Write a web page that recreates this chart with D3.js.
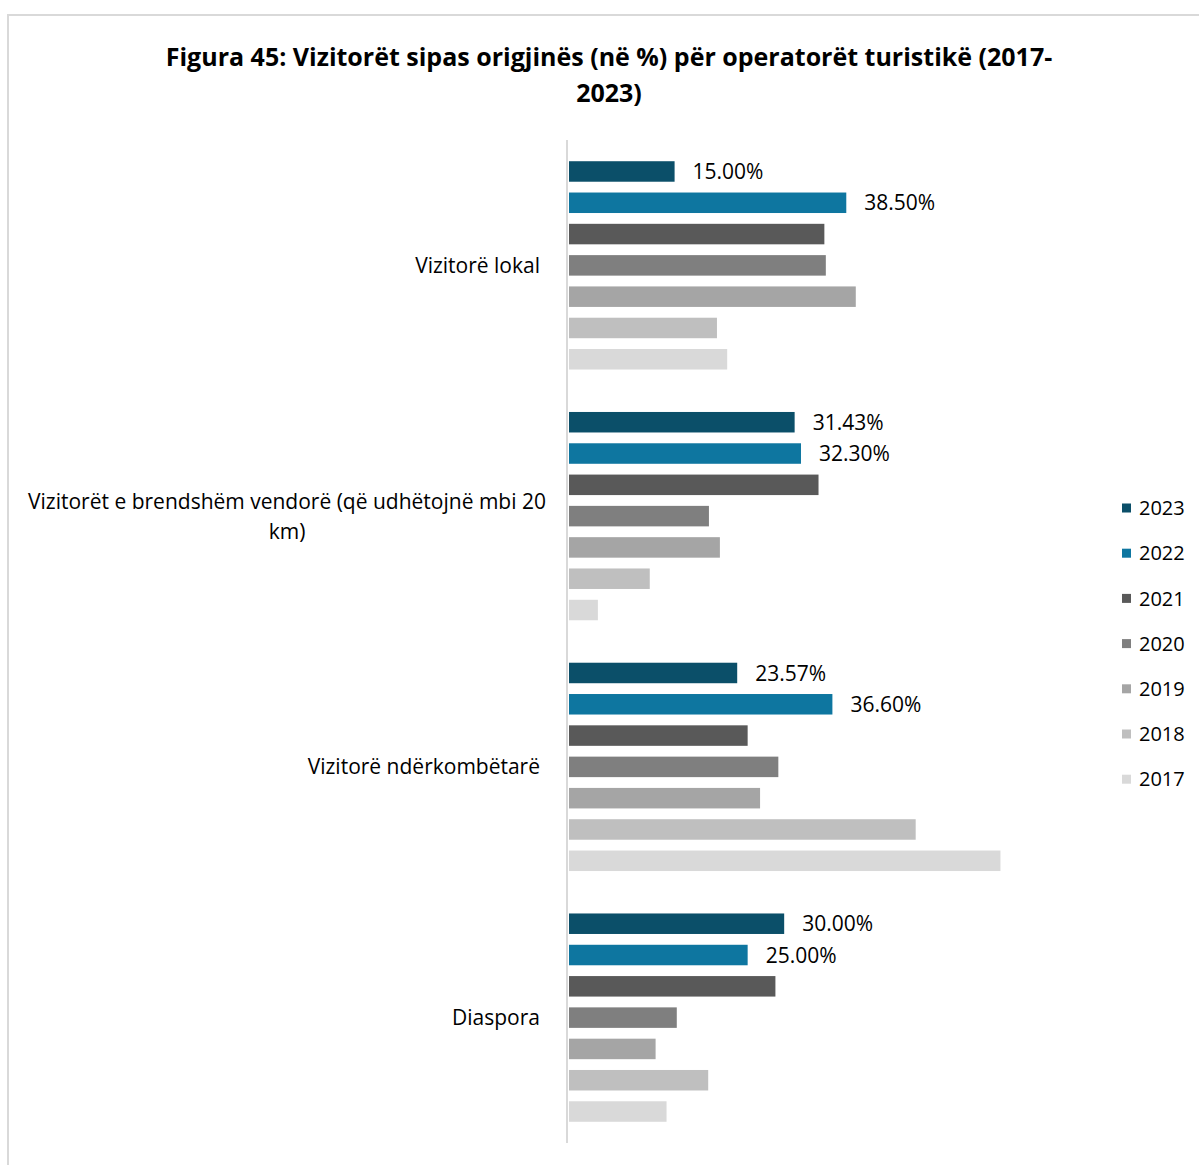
<!DOCTYPE html>
<html>
<head>
<meta charset="utf-8">
<script src="https://cdn.jsdelivr.net/npm/d3@7"></script>
<style>
  html, body { margin: 0; padding: 0; background: #fff; }
  svg { display: block; }
  text { font-family: "Open Sans", Lato, sans-serif; fill: #000; }
</style>
</head>
<body>
<svg id="chart" width="1199" height="1165"></svg>
<script>
const categories = [
  "Vizitorë lokal",
  "Vizitorët e brendshëm vendorë (që udhëtojnë mbi 20 km)",
  "Vizitorë ndërkombëtarë",
  "Diaspora"
];
const years = ["2023", "2022", "2021", "2020", "2019", "2018", "2017"];
const v2023 = [15.00, 31.43, 23.57, 30.00];
const v2022 = [38.50, 32.30, 36.60, 25.00];
const v2021 = [35.5, 34.7, 25.0, 28.8];
const v2020 = [35.7, 19.7, 29.2, 15.3];
const v2019 = [39.8, 21.2, 26.7, 12.4];
const v2018 = [20.8, 11.6, 48.0, 19.6];
const v2017 = [22.2, 4.5, 59.6, 13.9];
const labeledYears = ["2023", "2022"];
const colors = ["#0b4f69", "#0e76a0", "#595959", "#7f7f7f", "#a5a5a5", "#bfbfbf", "#d9d9d9"];
const titleLines = ["Figura 45: Vizitorët sipas origjinës (në %) për operatorët turistikë (2017-", "2023)"];

const seriesValues = [v2023, v2022, v2021, v2020, v2019, v2018, v2017];

const svg = d3.select("#chart");

// chart border
svg.append("rect")
  .attr("x", 8).attr("y", 15).attr("width", 1300).attr("height", 1300)
  .attr("fill", "none").attr("stroke", "#d9d9d9").attr("stroke-width", 2);

// title
svg.append("text")
  .attr("x", 609).attr("y", 66)
  .attr("text-anchor", "middle")
  .style("font-size", "25px").style("font-weight", "bold")
  .selectAll("tspan").data(titleLines).join("tspan")
  .attr("x", 609).attr("dy", (d, i) => i === 0 ? 0 : 36)
  .text(d => d);

const x = d3.scaleLinear().domain([0, 60]).range([565, 565 + 60 * 7.306]);
const y0 = d3.scaleBand().domain(categories).range([140, 1143]).paddingInner(0).paddingOuter(0);
const y1 = d3.scaleBand().domain(years).range([0, y0.bandwidth()]).paddingInner(0.345).paddingOuter(0.678);
const color = d3.scaleOrdinal().domain(years).range(colors);

const data = [];
categories.forEach((c, ci) => {
  years.forEach((yr, yi) => {
    data.push({ cat: c, year: yr, value: seriesValues[yi][ci] });
  });
});

const gap = 4;
svg.append("g").selectAll("rect").data(data).join("rect")
  .attr("x", x(0) + gap)
  .attr("y", d => y0(d.cat) + y1(d.year))
  .attr("width", d => Math.max(0, x(d.value) - x(0) - gap))
  .attr("height", y1.bandwidth())
  .attr("fill", d => color(d.year));

// data labels
svg.append("g").selectAll("text").data(data.filter(d => labeledYears.includes(d.year))).join("text")
  .attr("x", d => x(d.value) + 18)
  .attr("y", d => y0(d.cat) + y1(d.year) + y1.bandwidth() / 2)
  .attr("dy", "0.36em")
  .style("font-size", "21px")
  .text(d => d.value.toFixed(2) + "%");

// axis line
svg.append("line")
  .attr("x1", 567).attr("x2", 567)
  .attr("y1", y0.range()[0]).attr("y2", y0.range()[1])
  .attr("stroke", "#d9d9d9").attr("stroke-width", 2);

// category labels
const labelG = svg.append("g");
categories.forEach(c => {
  const cy = y0(c) + y0.bandwidth() / 2;
  if (c.length > 30) {
    const lines = ["Vizitorët e brendshëm vendorë (që udhëtojnë mbi 20", "km)"];
    const t = labelG.append("text").attr("text-anchor", "middle").style("font-size", "21px");
    lines.forEach((ln, i) => {
      t.append("tspan").attr("x", 287).attr("y", cy + (i - 0.5) * 30).attr("dy", "0.36em").text(ln);
    });
  } else {
    labelG.append("text")
      .attr("x", 540).attr("y", cy).attr("dy", "0.36em")
      .attr("text-anchor", "end").style("font-size", "21px")
      .text(c);
  }
});

// legend
const legend = svg.append("g");
years.forEach((yr, i) => {
  const ly = 508 + i * 45.2;
  legend.append("rect").attr("x", 1122).attr("y", ly - 4.5).attr("width", 9).attr("height", 9).attr("fill", color(yr));
  legend.append("text").attr("x", 1139).attr("y", ly).attr("dy", "0.36em").style("font-size", "20px").text(yr);
});
</script>
</body>
</html>
